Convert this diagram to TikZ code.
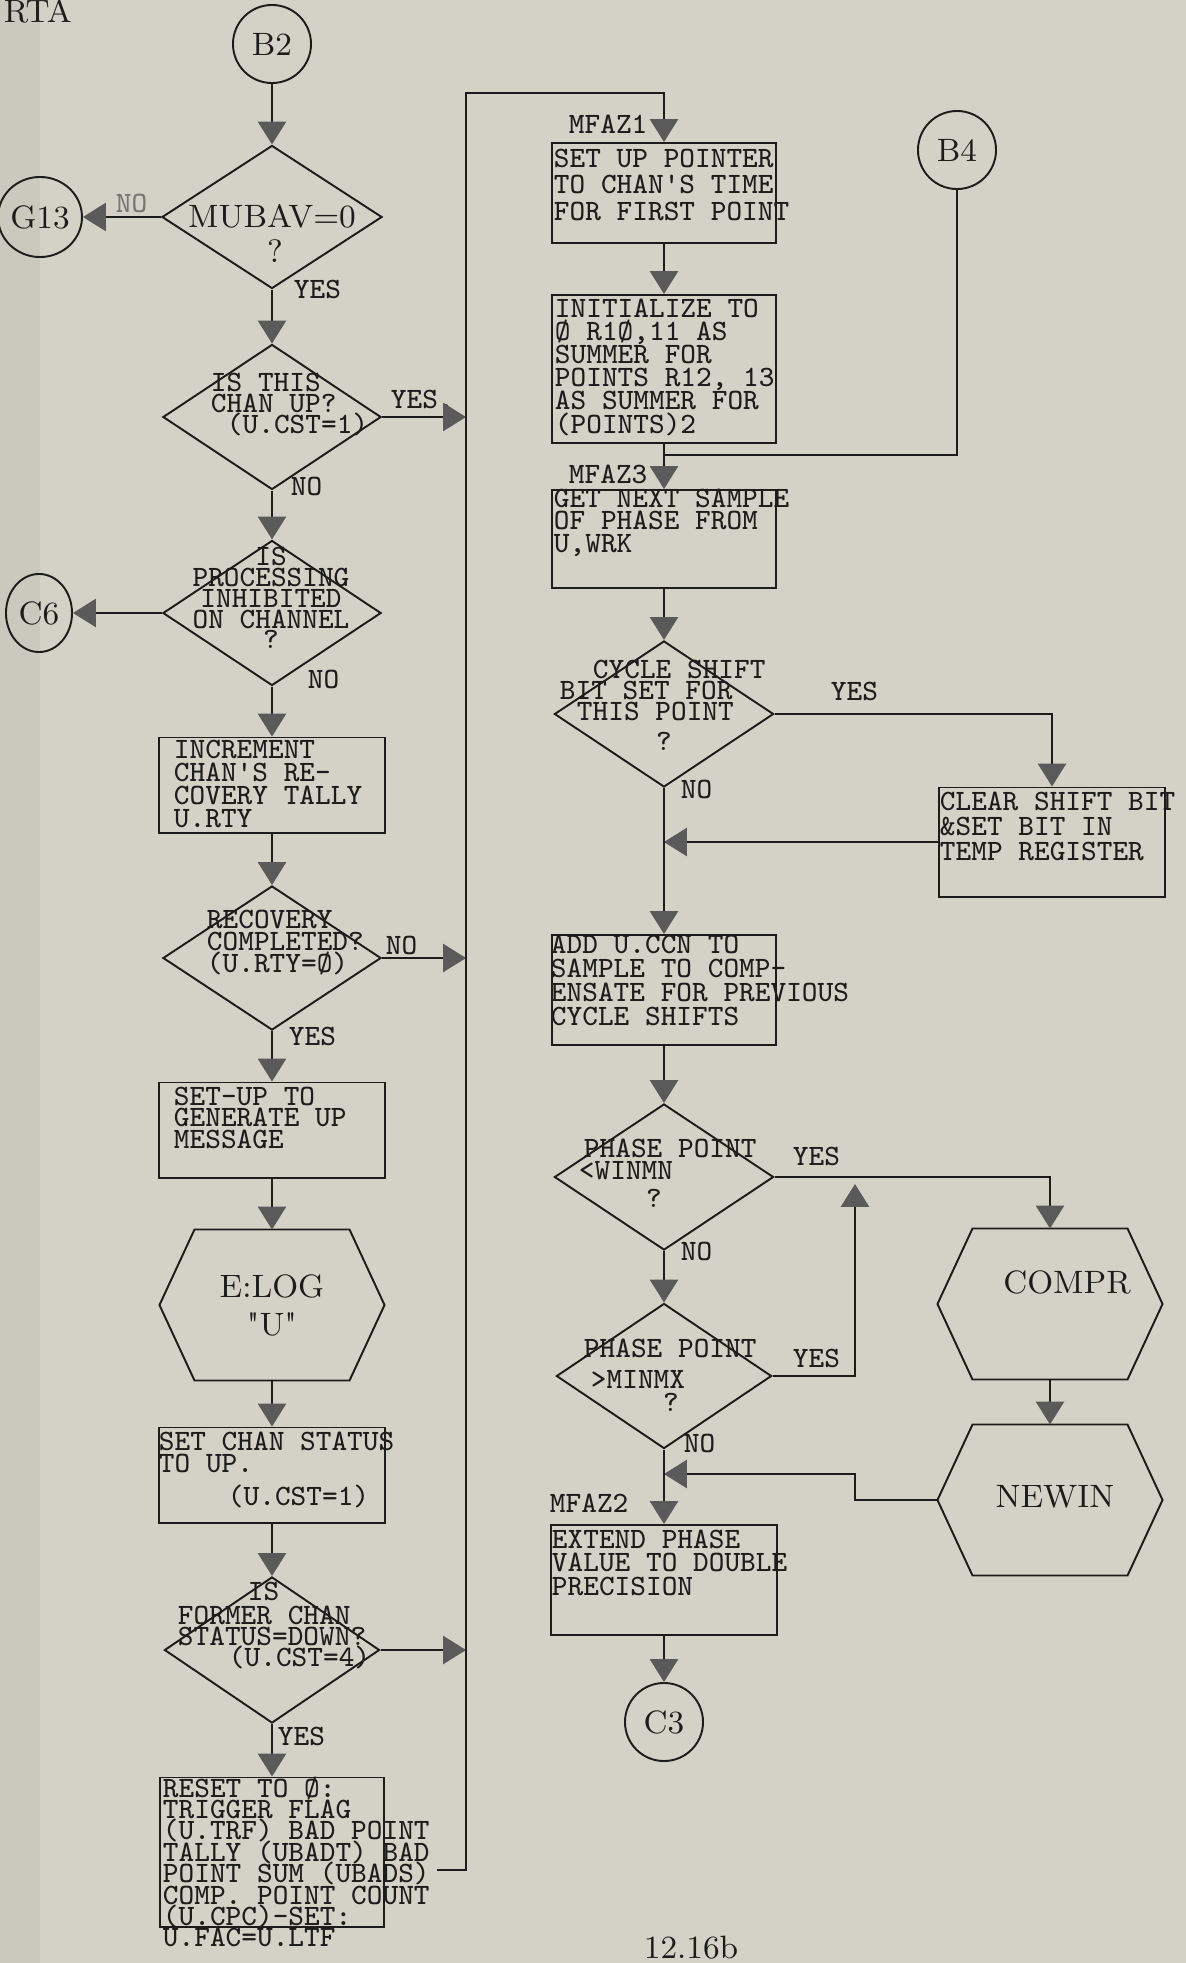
\documentclass[tikz,border=0pt]{standalone}
\usepackage{xcolor}
\usepackage{tikz}
\usetikzlibrary{arrows.meta,positioning,shapes.geometric}
\definecolor{paper}{HTML}{D4D1C6}
\definecolor{ink}{HTML}{1C1C1C}
\definecolor{tipGray}{HTML}{5A5A5A}

\begin{document}
\begin{tikzpicture}[x=0.01cm,y=-0.01cm,line width=0.55pt,color=ink,
  flow/.style={-{Triangle[width=8pt,length=6.5pt,color=tipGray]}},
  box/.style={draw,rectangle,inner sep=0pt,minimum width=2.25cm},
  dia/.style={draw,diamond,inner sep=0pt,minimum width=2.18cm,minimum height=1.45cm},
  hexa/.style={rectangle,inner sep=0pt,minimum width=2.23cm,minimum height=1.49cm,align=center,font=\fontsize{9.2}{10.8}\selectfont},
  conn/.style={draw,circle,inner sep=0pt,minimum size=0.78cm,font=\fontsize{9.2}{9.2}\selectfont},
  offpage/.style={draw,ellipse,inner sep=0pt,minimum width=0.66cm,minimum height=0.8cm,font=\fontsize{9.2}{9.2}\selectfont},
  lab/.style={font=\fontsize{8.4}{8.4}\selectfont\ttfamily,inner sep=0pt,anchor=base west},
  serif/.style={font=\fontsize{9.2}{9.2}\selectfont,inner sep=0pt,anchor=base}]
\useasboundingbox (0,0) rectangle (1186,1963);
% paper
\fill[paper] (0,0) rectangle (1186,1963);
\fill[paper!96!black] (0,0) rectangle (40,1963);
\node[serif,anchor=base west] (hdr) at (3,22) {RTA};

% left column
\node[conn] (b2) at (272,44) {B2};
\node[dia,minimum width=2.2cm,minimum height=1.43cm] (d1) at (272,217) {};
\node[serif] (d1-t) at (272,227) {MUBAV=0};
\node[serif] (d1-q) at (275,262) {?};
\node[offpage] (g13) at (40,217) {G13};
\node[lab,text=ink!60] (no1) at (115,212) {NO};
\node[lab] (yes1) at (293,298) {YES};

\node[dia] (d2) at (272,417) {};
\foreach \t/\x/\y [count=\i] in {IS THIS/210/391,CHAN UP?/210/412,(U.CST=1)/226/433}
  \node[lab] (d2-\i) at (\x,\y) {\t};
\node[lab] (yes2) at (390,408) {YES,};
\node[lab] (no2) at (290,495) {NO};

\node[dia] (d3) at (272,613) {};
\foreach \t/\y [count=\i] in {IS/565,PROCESSING/586,INHIBITED/607,ON CHANNEL/628,?/648}
  \node[lab,anchor=base] (d3-\i) at (271,\y) {\t};
\node[offpage,minimum height=0.78cm] (c6) at (39,613) {C6};
\node[lab] (no3) at (307,688) {NO};

\node[box,minimum height=0.95cm] (inc) at (272,785) {};
\foreach \t [count=\i from 0] in {INCREMENT,CHAN'S RE-,COVERY TALLY,U.RTY}
  \node[lab] (inc-\i) at (173,758+23.3*\i) {\t};

\node[dia,minimum height=1.44cm] (d4) at (272,958) {};
\foreach \t [count=\i from 0] in {RECOVERY,COMPLETED?,(U.RTY=Ø)}
  \node[lab] (d4-\i) at (206,928+22*\i) {\t};
\node[lab] (no4) at (385,954) {NO};
\node[lab] (yes4) at (288,1045) {YES};

\node[box,minimum height=0.95cm] (setup) at (272,1130) {};
\foreach \t [count=\i from 0] in {SET-UP TO,GENERATE UP,MESSAGE}
  \node[lab] (setup-\i) at (173,1105+21.5*\i) {\t};

\node[hexa] (elog) at (272,1305) {E:LOG\\\textquotedbl U\textquotedbl};

\node[box,minimum height=0.95cm] (stat) at (272,1475) {};
\foreach \t/\x/\y [count=\i] in {SET CHAN STATUS/158/1450,TO UP./158/1472,(U.CST=1)/227/1505}
  \node[lab] (stat-\i) at (\x,\y) {\t};

\node[dia,minimum width=2.15cm,minimum height=1.46cm] (d5) at (272,1650) {};
\foreach \t/\x/\y [count=\i] in {IS/247/1600,FORMER CHAN/177/1624,STATUS=DOWN?/177/1645,(U.CST=4)/228/1666}
  \node[lab] (d5-\i) at (\x,\y) {\t};
\node[lab] (yes5) at (277,1745) {YES};

\node[box,minimum width=2.24cm,minimum height=1.49cm] (rst) at (272,1852) {};
\foreach \t [count=\i from 0] in {RESET TO Ø:,TRIGGER FLAG,(U.TRF) BAD POINT,TALLY (UBADT) BAD,
    POINT SUM (UBADS),COMP. POINT COUNT,(U.CPC)-SET:,U.FAC=U.LTF}
  \node[lab] (rst-\i) at (162,1797+21.4*\i) {\t};

\coordinate (rstout) at (437,1870);
\coordinate (bustop) at (466,93);

% right column
\node[lab] (mf1) at (568,133) {MFAZ1};
\node[box,minimum width=2.24cm,minimum height=1.0cm] (p1) at (664,193) {};
\foreach \t [count=\i from 0] in {SET UP POINTER,TO CHAN'S TIME,FOR FIRST POINT}
  \node[lab] (p1-\i) at (553,167+26.5*\i) {\t};
\node[box,minimum width=2.24cm,minimum height=1.48cm] (p2) at (664,369) {};
\foreach \t [count=\i from 0] in {INITIALIZE TO,{Ø R1Ø,11 AS},SUMMER FOR,{POINTS R12, 13},AS SUMMER FOR,(POINTS)2}
  \node[lab] (p2-\i) at (554,317+23.2*\i) {\t};
\node[conn] (b4) at (957,150) {B4};
\coordinate (mrg) at (664,455);

\node[lab] (mf3) at (568,483) {MFAZ3};
\node[box,minimum width=2.24cm,minimum height=0.98cm] (p3) at (664,539) {};
\foreach \t [count=\i from 0] in {GET NEXT SAMPLE,OF PHASE FROM,{U,WRK}}
  \node[lab] (p3-\i) at (553,507+22.5*\i) {\t};

\node[dia,minimum width=2.19cm,minimum height=1.46cm] (d6) at (664,714) {};
\foreach \t/\x/\y [count=\i] in {CYCLE SHIFT/592/678,BIT SET FOR/559/699,THIS POINT/576/720}
  \node[lab] (d6-\i) at (\x,\y) {\t};
\node[lab,anchor=base] (d6-q) at (664,750) {?};
\node[lab] (yes6) at (830,700) {YES};
\node[lab] (no6) at (680,798) {NO};

\node[box,minimum width=2.26cm,minimum height=1.09cm] (clr) at (1052,842) {};
\foreach \t [count=\i from 0] in {CLEAR SHIFT BIT,\&SET BIT IN,TEMP REGISTER}
  \node[lab] (clr-\i) at (939,810+25*\i) {\t};

\node[box,minimum width=2.24cm,minimum height=1.1cm] (add) at (664,990) {};
\foreach \t [count=\i from 0] in {ADD U.CCN TO,SAMPLE TO COMP-,ENSATE FOR PREVIOUS,CYCLE SHIFTS}
  \node[lab] (add-\i) at (550,953+24*\i) {\t};

\node[dia,minimum width=2.19cm,minimum height=1.46cm] (d7) at (664,1177) {};
\node[lab] (d7-1) at (583,1157) {PHASE POINT};
\node[lab] (d7-2) at (578,1179) {<WINMN};
\node[lab,anchor=base] (d7-q) at (654,1207) {?};
\node[lab] (yes7) at (792,1165) {YES};
\node[lab] (no7) at (680,1260) {NO};

\node[dia,minimum width=2.15cm,minimum height=1.45cm] (d8) at (664,1376) {};
\node[lab] (d8-1) at (583,1357) {PHASE POINT};
\node[lab] (d8-2) at (590,1388) {>MINMX};
\node[lab,anchor=base] (d8-q) at (671,1411) {?};
\node[lab] (yes8) at (792,1367) {YES};
\node[lab] (no8) at (683,1452) {NO};
\coordinate (uptip) at (855,1184);

\node[hexa] (compr) at (1050,1304) {};
\node[serif] (compr-t) at (1067,1293) {COMPR};
\node[hexa] (newin) at (1050,1500) {};
\node[serif] (newin-t) at (1055,1507) {NEWIN};
\coordinate (nwj) at (855,1474);

\node[lab] (mf2) at (549,1512) {MFAZ2};
\node[box,minimum width=2.25cm,minimum height=1.1cm] (p6) at (664,1580) {};
\foreach \t [count=\i from 0] in {EXTEND PHASE,VALUE TO DOUBLE,PRECISION}
  \node[lab] (p6-\i) at (551,1548+23.5*\i) {\t};
\node[conn] (c3) at (664,1722) {C3};
\node[serif] (pg) at (691,1958) {12.16b};

% hexagon outlines
\foreach \h in {elog,compr,newin}
  \draw (\h.west) -- ([xshift=.35cm]\h.north west) -- ([xshift=-.35cm]\h.north east)
    -- (\h.east) -- ([xshift=-.35cm]\h.south east) -- ([xshift=.35cm]\h.south west) -- cycle;

% connectors, left
\draw[flow] (b2) -- (d1);
\draw[flow] (d1) -- (g13);
\draw[flow] (d1) -- (d2);
\draw[flow] (d2) -- (d2 -| bustop);
\draw[flow] (d2) -- (d3);
\draw[flow] (d3) -- (c6);
\draw[flow] (d3) -- (inc);
\draw[flow] (inc) -- (d4);
\draw[flow] (d4) -- (d4 -| bustop);
\draw[flow] (d4) -- (setup);
\draw[flow] (setup) -- (elog);
\draw[flow] (elog) -- (stat);
\draw[flow] (stat) -- (d5);
\draw[flow] (d5) -- (d5 -| bustop);
\draw[flow] (d5) -- (rst);
\draw[flow] (rstout) -| (bustop) -| (p1);

% connectors, right
\draw[flow] (p1) -- (p2);
\draw (p2) -- (mrg);
\draw (b4) |- (mrg);
\draw[flow] (mrg) -- (p3);
\draw[flow] (p3) -- (d6);
\draw[flow] (d6) -| (clr);
\draw[flow] (clr) -- (clr -| d6);
\draw[flow] (d6) -- (add);
\draw[flow] (add) -- (d7);
\draw[flow] (d7) -| (compr);
\draw[flow] (d7) -- (d8);
\draw[flow] (d8) -| (uptip);
\draw[flow] (compr) -- (newin);
\draw[flow] (newin) -| (nwj) -- (nwj -| d8);
\draw[flow] (d8) -- (p6);
\draw[flow] (p6) -- (c3);
\end{tikzpicture}
\end{document}
